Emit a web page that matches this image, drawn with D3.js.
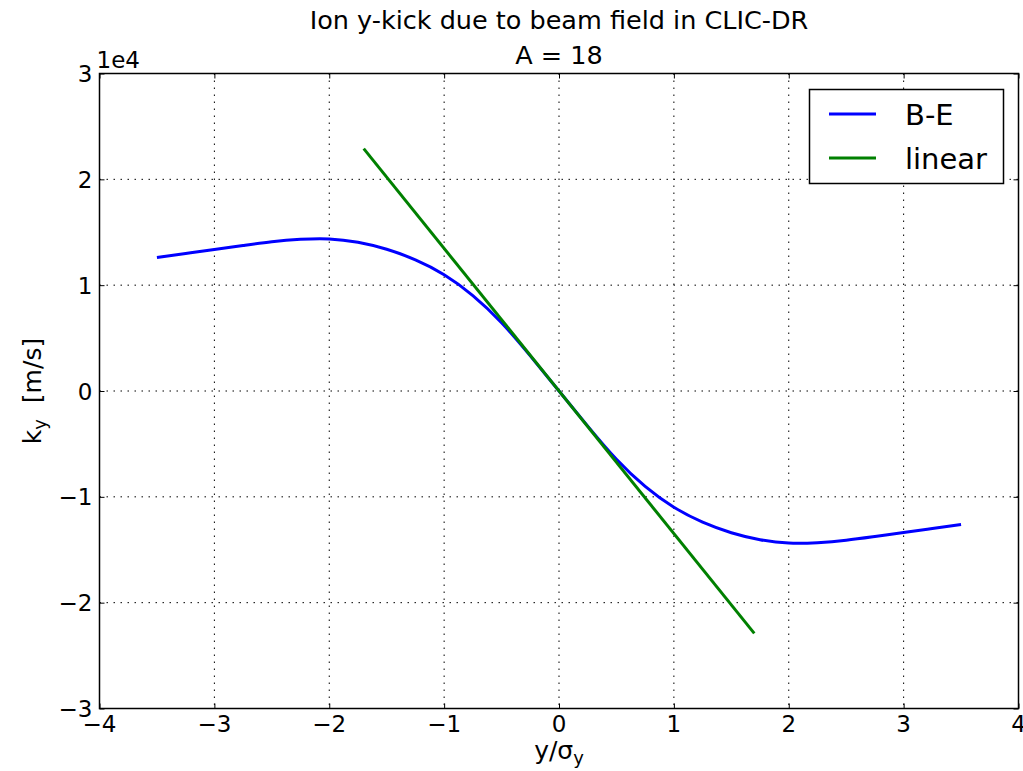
<!DOCTYPE html>
<html><head><meta charset="utf-8">
<script src="https://cdn.jsdelivr.net/npm/d3@7"></script>
<style>body{margin:0;background:#fff}svg{display:block}text{font-family:"DejaVu Sans",sans-serif;fill:#000}</style>
</head><body>
<svg id="c" width="1023" height="771"></svg>
<script>
const titleLines = ["Ion y-kick due to beam field in CLIC-DR", "A = 18"];
const xTicks = [-4, -3, -2, -1, 0, 1, 2, 3, 4];
const yTicks = [-3, -2, -1, 0, 1, 2, 3];
const yOffsetLabel = "1e4";
const seriesNames = ["B-E", "linear"];
// B-E kick (units of 1e4 m/s) vs y/sigma_y
const beX = [-3.5,-3.25,-3,-2.75,-2.5,-2.25,-2,-1.75,-1.5,-1.25,-1,-0.75,-0.5,-0.25,0,0.25,0.5,0.75,1,1.25,1.5,1.75,2,2.25,2.5,2.75,3,3.25,3.5];
const beY = [1.262,1.30,1.338,1.375,1.41,1.433,1.437,1.405,1.339,1.239,1.099,0.902,0.645,0.332,0,-0.332,-0.645,-0.902,-1.099,-1.239,-1.339,-1.405,-1.437,-1.433,-1.41,-1.375,-1.338,-1.30,-1.262];
// linear kick
const linX = [-1.7, 1.7];
const linY = [2.29, -2.29];

const svg = d3.select("#c");
const L = 99.5, R = 1018.5, T = 73.5, B = 708.5;
const x = d3.scaleLinear().domain([-4, 4]).range([L, R]);
const y = d3.scaleLinear().domain([-3, 3]).range([B, T]);

// grid
const g = svg.append("g");
g.selectAll(".gx").data(xTicks.slice(1, -1)).enter().append("line")
  .attr("x1", d => x(d)).attr("x2", d => x(d)).attr("y1", T).attr("y2", B)
  .attr("stroke", "#000").attr("stroke-width", 1).attr("stroke-dasharray", "1.5,5.5");
g.selectAll(".gy").data(yTicks.slice(1, -1)).enter().append("line")
  .attr("y1", d => y(d)).attr("y2", d => y(d)).attr("x1", L).attr("x2", R)
  .attr("stroke", "#000").attr("stroke-width", 1).attr("stroke-dasharray", "1.5,5.5");

// axes via d3 axis (inward ticks)
function styleAxis(sel) {
  sel.select(".domain").remove();
  sel.selectAll(".tick line").attr("stroke", "#000").attr("stroke-width", 1);
  sel.selectAll("text").remove();
}
const fmt = d => d < 0 ? "\u2212" + Math.abs(d) : String(d);
svg.append("g").attr("transform", `translate(0,${B})`).call(d3.axisBottom(x).tickValues(xTicks).tickSize(-5)).call(styleAxis);
svg.append("g").attr("transform", `translate(0,${T})`).call(d3.axisTop(x).tickValues(xTicks).tickSize(-5)).call(styleAxis);
svg.append("g").attr("transform", `translate(${L},0)`).call(d3.axisLeft(y).tickValues(yTicks).tickSize(-5)).call(styleAxis);
svg.append("g").attr("transform", `translate(${R},0)`).call(d3.axisRight(y).tickValues(yTicks).tickSize(-5)).call(styleAxis);

// tick labels
svg.selectAll(".xl").data(xTicks).enter().append("text")
  .attr("x", d => x(d)).attr("y", B + 23).attr("text-anchor", "middle")
  .attr("font-size", 23).text(fmt);
svg.selectAll(".yl").data(yTicks).enter().append("text")
  .attr("x", L - 7).attr("y", d => y(d) + 8.5).attr("text-anchor", "end")
  .attr("font-size", 23).text(fmt);
svg.append("text").attr("x", L - 3).attr("y", T - 6).attr("font-size", 23).text(yOffsetLabel);

// lines
const line = d3.line().x(d => x(d[0])).y(d => y(d[1])).curve(d3.curveNatural);
const beData = beX.map((v, i) => [v, beY[i]]);
const linData = linX.map((v, i) => [v, linY[i]]);
svg.append("clipPath").attr("id", "clp").append("rect").attr("x", L).attr("y", T).attr("width", R - L).attr("height", B - T);
svg.append("path").datum(beData).attr("d", line).attr("fill", "none").attr("stroke", "#0000ff").attr("stroke-width", 3).attr("clip-path", "url(#clp)");
svg.append("path").datum(linData).attr("d", d3.line().x(d => x(d[0])).y(d => y(d[1]))).attr("fill", "none").attr("stroke", "#008000").attr("stroke-width", 3).attr("clip-path", "url(#clp)");

// frame
svg.append("rect").attr("x", L).attr("y", T).attr("width", R - L).attr("height", B - T)
  .attr("fill", "none").attr("stroke", "#000").attr("stroke-width", 1.5);

// legend
const lg = svg.append("g");
lg.append("rect").attr("x", 809.5).attr("y", 89.5).attr("width", 194).attr("height", 94)
  .attr("fill", "#fff").attr("stroke", "#000").attr("stroke-width", 1.5);
const colors = ["#0000ff", "#008000"];
seriesNames.forEach((n, i) => {
  const cy = 114 + i * 44;
  lg.append("line").attr("x1", 829).attr("x2", 876).attr("y1", cy).attr("y2", cy)
    .attr("stroke", colors[i]).attr("stroke-width", 3);
  lg.append("text").attr("x", 905).attr("y", cy + 10.5).attr("font-size", 29).text(n);
});

// titles
svg.append("text").attr("x", (L + R) / 2).attr("y", 29).attr("text-anchor", "middle").attr("font-size", 25.5).text(titleLines[0]);
svg.append("text").attr("x", (L + R) / 2).attr("y", 64).attr("text-anchor", "middle").attr("font-size", 25.5).text(titleLines[1]);

// axis labels
const xl = svg.append("text").attr("x", (L + R) / 2).attr("y", 759).attr("text-anchor", "middle").attr("font-size", 25);
xl.append("tspan").text("y/\u03c3");
xl.append("tspan").attr("font-size", 18).attr("dy", 5).text("y");
const yl = svg.append("text").attr("transform", `translate(41,${(T + B) / 2}) rotate(-90)`).attr("text-anchor", "middle").attr("font-size", 25);
yl.append("tspan").text("k");
yl.append("tspan").attr("font-size", 18).attr("dy", 5).text("y");
yl.append("tspan").attr("dy", -5).text("\u00a0 [m/s]");
</script>
</body></html>
